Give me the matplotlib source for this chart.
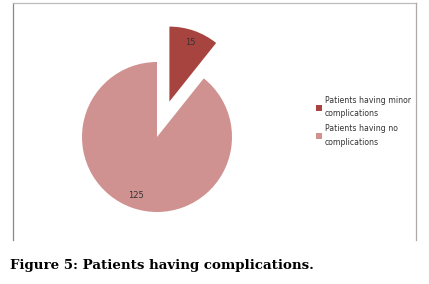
import matplotlib
matplotlib.use("Agg")
import matplotlib.pyplot as plt
from matplotlib.lines import Line2D
from matplotlib.patches import Patch

categories = ["Patients having minor\ncomplications", "Patients having no\ncomplications"]
values = [15, 125]
colors = ["#A8443F", "#CF9290"]
explode = [0.5, 0.0]
caption = "Figure 5: Patients having complications."

W, H = 429, 284
fig = plt.figure(figsize=(W / 100, H / 100), dpi=100)
fig.patch.set_facecolor("white")

# Pie axes: center (157,137) px, radius 75 px
cx, cy, r = 157, 137, 75
half = 110
ax = fig.add_axes([(cx - half) / W, 1 - (cy + half) / H, 2 * half / W, 2 * half / H])
total = sum(values)
ax.pie(values, colors=colors, explode=explode, startangle=90, counterclock=False,
       radius=1.0, autopct=lambda p: f"{round(p * total / 100):d}", pctdistance=0.83,
       textprops=dict(fontsize=6, color="#333333", family="DejaVu Sans"),
       wedgeprops=dict(linewidth=0))
lim = half / r
ax.set_xlim(-lim, lim)
ax.set_ylim(-lim, lim)
ax.set_aspect("equal")
ax.axis("off")

# Frame lines (left, top, right)
def px(x, y):
    return x / W, 1 - y / H
for (x0, y0), (x1, y1), c in [((13, 240), (13, 2.5), "#888888"),
                              ((13, 2.5), (416, 2.5), "#bbbbbb"),
                              ((416, 2.5), (416, 240), "#aaaaaa")]:
    a, b = px(x0, y0)
    c2, d = px(x1, y1)
    fig.add_artist(Line2D([a, c2], [b, d], color=c, linewidth=0.9, transform=fig.transFigure))

# Legend
handles = [Patch(facecolor=c, edgecolor="none") for c in colors]
leg = fig.legend(handles, categories, loc="upper left", bbox_to_anchor=(316 / W, 1 - 96 / H),
                 frameon=False, handlelength=0.8, handleheight=0.8,
                 handletextpad=0.3, labelspacing=0.8, borderpad=0, borderaxespad=0,
                 prop=dict(family="DejaVu Sans", size=5.6))
for t in leg.get_texts():
    t.set_color("#333333")
    t.set_linespacing(1.6)

# Caption
fig.text(10 / W, 1 - 265 / H, caption, fontsize=9.6, fontweight="bold",
         family="DejaVu Serif", va="center", ha="left", color="black")

fig.savefig("out.png", dpi=100, facecolor="white")
